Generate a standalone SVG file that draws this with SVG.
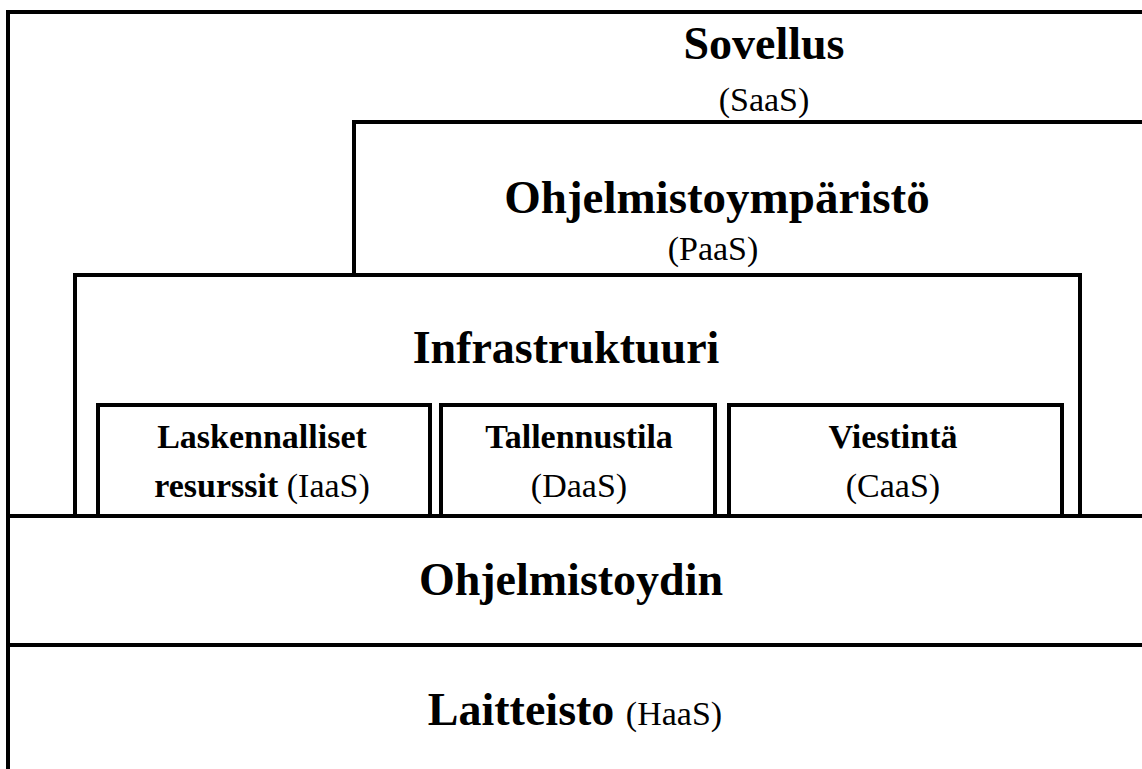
<svg xmlns="http://www.w3.org/2000/svg" width="1142" height="769" viewBox="0 0 1142 769">
<style>
.ln{fill:none;stroke:#000;stroke-width:4;stroke-linecap:butt;stroke-linejoin:miter}
.big{font-family:"Liberation Serif","Times New Roman",serif;font-weight:bold;font-size:46px;fill:#000;text-anchor:middle}
.sm{font-family:"Liberation Serif","Times New Roman",serif;font-weight:normal;font-size:34px;fill:#000;text-anchor:middle}
.bx{font-family:"Liberation Serif","Times New Roman",serif;font-weight:bold;font-size:34px;fill:#000;text-anchor:middle}
.nb{font-weight:normal}
</style>
<rect width="1142" height="769" fill="#fff"/>
<g id="saas">
<path class="ln" d="M8,769 V12 H1142"/>
<text class="big" x="764" y="59">Sovellus</text>
<text class="sm" x="764" y="111">(SaaS)</text>
</g>
<g id="paas">
<path class="ln" d="M354,275 V122 H1142"/>
<text class="big" x="717" y="213" style="font-size:47px">Ohjelmistoympäristö</text>
<text class="sm" x="713" y="260">(PaaS)</text>
</g>
<g id="infra">
<path class="ln" d="M75,516 V275 H1080 V516"/>
<text class="big" x="566" y="363">Infrastruktuuri</text>
</g>
<g id="iaas">
<path class="ln" d="M98,516 V405 H430 V516"/>
<text class="bx" x="262" y="448">Laskennalliset</text>
<text class="bx" x="262" y="497">resurssit <tspan class="nb">(IaaS)</tspan></text>
</g>
<g id="daas">
<path class="ln" d="M441,516 V405 H715 V516"/>
<text class="bx" x="579" y="448">Tallennustila</text>
<text class="sm" x="579" y="497">(DaaS)</text>
</g>
<g id="caas">
<path class="ln" d="M729,516 V405 H1062 V516"/>
<text class="bx" x="893" y="448">Viestintä</text>
<text class="sm" x="893" y="497">(CaaS)</text>
</g>
<g id="kernel">
<path class="ln" d="M8,516 H1142"/>
<text class="big" x="571" y="595">Ohjelmistoydin</text>
</g>
<g id="haas">
<path class="ln" d="M8,645 H1142"/>
<text class="big" x="575" y="725">Laitteisto <tspan class="nb" style="font-size:34px">(HaaS)</tspan></text>
</g>
<g id="connectors"></g>
</svg>
